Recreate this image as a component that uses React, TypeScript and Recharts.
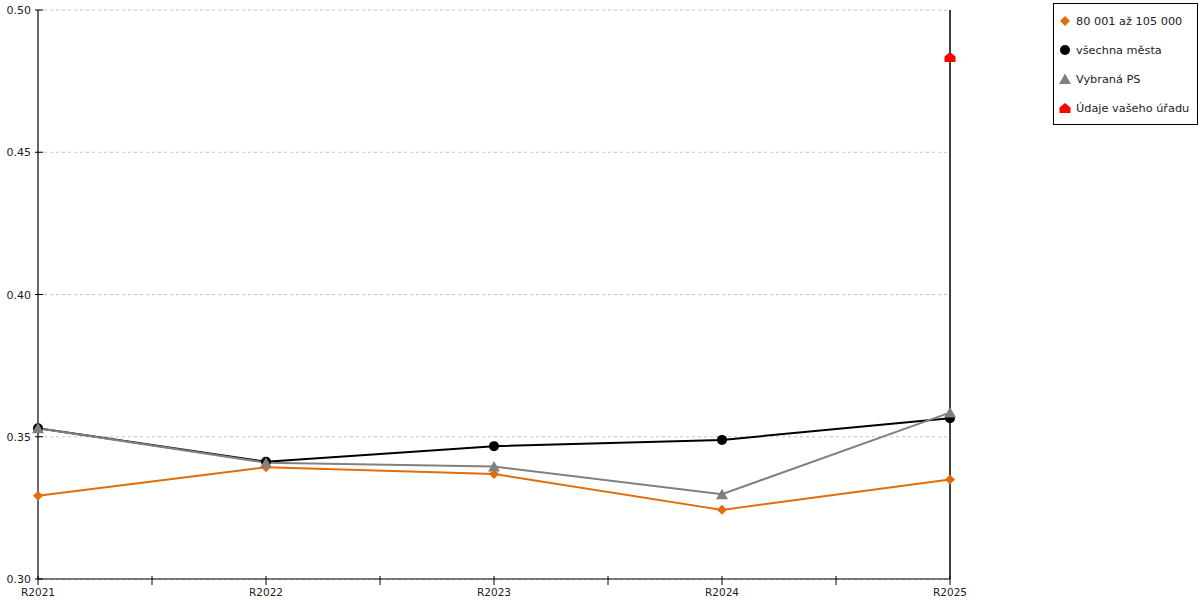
import {
  CartesianGrid,
  Line,
  LineChart,
  ReferenceLine,
  XAxis,
  YAxis,
} from "recharts";

const categories = ["R2021", "R2022", "R2023", "R2024", "R2025"];
const sizeGroup = [0.3293, 0.3393, 0.3369, 0.3243, 0.335];
const allCities = [0.353, 0.3412, 0.3467, 0.3489, 0.3565];
const selectedPs = [0.353, 0.3409, 0.3395, 0.3298, 0.3585];
const yourOffice: (number | null)[] = [null, null, null, null, 0.4835];
const yTicks = [0.3, 0.35, 0.4, 0.45, 0.5];

const seriesNames = {
  sizeGroup: "80 001 až 105 000",
  allCities: "všechna města",
  selectedPs: "Vybraná PS",
  yourOffice: "Údaje vašeho úřadu",
};

const colors = {
  orange: "#e46c0a",
  black: "#000000",
  gray: "#808080",
  red: "#ff0000",
  grid: "#c4c4c4",
  ink: "#222222",
};

const font = "'DejaVu Sans', Verdana, sans-serif";

const chartData = categories.map((category, i) => ({
  x: i,
  category,
  sizeGroup: sizeGroup[i],
  allCities: allCities[i],
  selectedPs: selectedPs[i],
  yourOffice: yourOffice[i],
}));

// major ticks on categories, minor ticks halfway between them
const xTicks = categories.flatMap((_, i) => (i === 0 ? [0] : [i - 0.5, i]));

type Marker = "diamond" | "circle" | "triangle" | "house";

const markerShape = (kind: Marker, cx: number, cy: number, fill: string) => {
  switch (kind) {
    case "diamond":
      return (
        <polygon
          points={`${cx},${cy - 5} ${cx + 5},${cy} ${cx},${cy + 5} ${cx - 5},${cy}`}
          fill={fill}
        />
      );
    case "circle":
      return <circle cx={cx} cy={cy} r={5} fill={fill} />;
    case "triangle":
      return (
        <polygon
          points={`${cx},${cy - 5.5} ${cx + 6},${cy + 5} ${cx - 6},${cy + 5}`}
          fill={fill}
        />
      );
    default:
      return (
        <polygon
          points={`${cx - 5.5},${cy + 5} ${cx - 5.5},${cy - 0.5} ${cx},${cy - 5} ${cx + 5.5},${cy - 0.5} ${cx + 5.5},${cy + 5}`}
          fill={fill}
        />
      );
  }
};

const makeDot = (kind: Marker, fill: string) => (props: any) => {
  const { cx, cy, index, value } = props;
  if (cx == null || cy == null || value == null) return <g key={`d-${index}`} />;
  return <g key={`d-${kind}-${index}`}>{markerShape(kind, cx, cy, fill)}</g>;
};

const XTick = (props: any) => {
  const { x, y, payload } = props;
  const v = Number(payload.value);
  const label = Number.isInteger(v) ? categories[v] : "";
  return (
    <g>
      <line x1={x} x2={x} y1={y - 3} y2={y + 6} stroke={colors.black} />
      {label && (
        <text
          x={x}
          y={y + 17}
          textAnchor="middle"
          fontSize={10.5}
          fontFamily={font}
          fill={colors.ink}
        >
          {label}
        </text>
      )}
    </g>
  );
};

const YTick = (props: any) => {
  const { x, y, payload } = props;
  return (
    <g>
      <line x1={x - 3} x2={x + 5} y1={y} y2={y} stroke={colors.black} />
      <text
        x={x - 7}
        y={y + 4}
        textAnchor="end"
        fontSize={11}
        fontFamily={font}
        fill={colors.ink}
      >
        {Number(payload.value).toFixed(2)}
      </text>
    </g>
  );
};

const legendItems: { name: string; kind: Marker; color: string }[] = [
  { name: seriesNames.sizeGroup, kind: "diamond", color: colors.orange },
  { name: seriesNames.allCities, kind: "circle", color: colors.black },
  { name: seriesNames.selectedPs, kind: "triangle", color: colors.gray },
  { name: seriesNames.yourOffice, kind: "house", color: colors.red },
];

export default function App() {
  return (
    <div
      style={{
        position: "absolute",
        left: 0,
        top: 0,
        width: 1200,
        height: 600,
        background: "#fff",
        fontFamily: font,
      }}
    >
      <LineChart
        width={1200}
        height={600}
        data={chartData}
        margin={{ top: 10, right: 250, left: 0, bottom: 0 }}
      >
        <CartesianGrid
          vertical={false}
          stroke={colors.grid}
          strokeDasharray="3 3"
        />
        <XAxis
          dataKey="x"
          type="number"
          domain={[0, categories.length - 1]}
          ticks={xTicks}
          interval={0}
          height={21}
          tickSize={0}
          tickMargin={0}
          tickLine={false}
          axisLine={{ stroke: colors.black, strokeWidth: 1.2 }}
          tick={<XTick />}
        />
        <YAxis
          domain={[0.3, 0.5]}
          ticks={yTicks}
          width={38}
          tickSize={0}
          tickMargin={0}
          tickLine={false}
          axisLine={{ stroke: colors.black, strokeWidth: 1.2 }}
          tick={<YTick />}
        />
        <ReferenceLine
          x={categories.length - 1}
          stroke={colors.black}
          strokeWidth={1.5}
          strokeOpacity={1}
        />
        <Line
          dataKey="sizeGroup"
          name={seriesNames.sizeGroup}
          type="linear"
          stroke={colors.orange}
          strokeWidth={2}
          dot={makeDot("diamond", colors.orange)}
          activeDot={false}
          isAnimationActive={false}
        />
        <Line
          dataKey="allCities"
          name={seriesNames.allCities}
          type="linear"
          stroke={colors.black}
          strokeWidth={2}
          dot={makeDot("circle", colors.black)}
          activeDot={false}
          isAnimationActive={false}
        />
        <Line
          dataKey="selectedPs"
          name={seriesNames.selectedPs}
          type="linear"
          stroke={colors.gray}
          strokeWidth={2}
          dot={makeDot("triangle", colors.gray)}
          activeDot={false}
          isAnimationActive={false}
        />
        <Line
          dataKey="yourOffice"
          name={seriesNames.yourOffice}
          type="linear"
          stroke="none"
          dot={makeDot("house", colors.red)}
          activeDot={false}
          isAnimationActive={false}
        />
      </LineChart>
      <div
        style={{
          position: "absolute",
          left: 1053,
          top: 3,
          width: 143,
          height: 120,
          border: "1px solid #000",
          background: "#fff",
        }}
      >
        {legendItems.map((item, i) => (
          <div
            key={item.name}
            style={{
              position: "absolute",
              left: 4,
              top: 9 + i * 29,
              height: 16,
              display: "flex",
              alignItems: "center",
              fontSize: 11.3,
              color: colors.ink,
              whiteSpace: "nowrap",
            }}
          >
            <svg width={14} height={14} style={{ marginRight: 4 }}>
              {markerShape(item.kind, 7, 7, item.color)}
            </svg>
            {item.name}
          </div>
        ))}
      </div>
    </div>
  );
}
